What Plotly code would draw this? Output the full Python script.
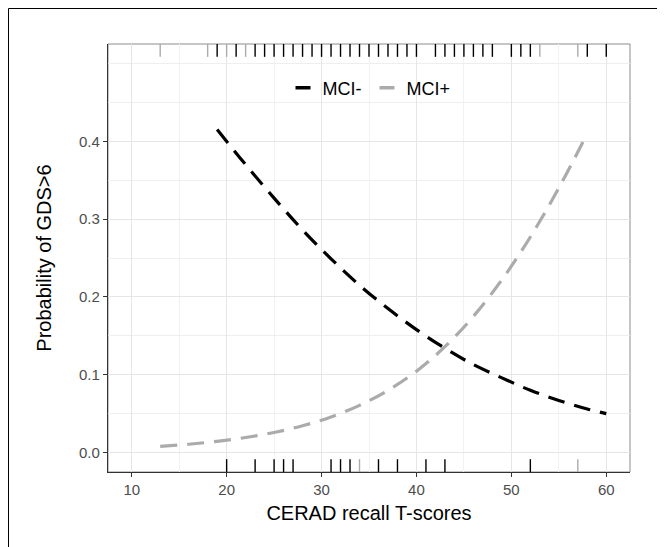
import plotly.graph_objects as go

# ---- data ----
neg_x = [19, 22, 25, 28, 31, 34, 37, 40, 43, 46, 49, 52, 55, 58, 60]
neg_y = [0.415, 0.370, 0.327, 0.286, 0.249, 0.215, 0.185, 0.158, 0.134, 0.113, 0.096, 0.080, 0.067, 0.056, 0.050]

pos_x = [13, 16, 19, 22, 25, 28, 31, 34, 37, 40, 43, 46, 49, 52, 55, 58]
pos_y = [0.008, 0.0107, 0.0144, 0.0193, 0.0258, 0.0344, 0.0457, 0.0606, 0.0799, 0.1046, 0.136, 0.175, 0.222, 0.277, 0.340, 0.410]

# rug marks (top = GDS>6 cases, bottom = others)
rug_top_neg = [19, 21, 23, 24, 25, 26, 27, 28, 29, 30, 31, 32, 33, 34, 35, 36, 37, 38, 39, 40,
               42, 43, 44, 45, 46, 47, 48, 50, 51, 52, 58, 60]
rug_top_pos = [13, 18, 20, 22, 53, 57]
rug_bot_neg = [20, 23, 25, 26, 27, 31, 32, 33, 36, 38, 41, 43, 52]
rug_bot_pos = [34, 57]

x_ticks = [10, 20, 30, 40, 50, 60]
y_ticks = [0.0, 0.1, 0.2, 0.3, 0.4]
y_tick_text = ["0.0", "0.1", "0.2", "0.3", "0.4"]

BLACK = "#000000"
GREY = "#ababab"
RUG_LEN = 0.03


def rug(xs, top):
    xx, yy = [], []
    for v in xs:
        xx += [v, v, None]
        yy += ([1, 1 - RUG_LEN, None] if top else [0, RUG_LEN, None])
    return xx, yy


fig = go.Figure()

for xs, top, col in [(rug_top_pos, True, GREY), (rug_top_neg, True, BLACK),
                     (rug_bot_pos, False, GREY), (rug_bot_neg, False, BLACK)]:
    rx, ry = rug(xs, top)
    fig.add_trace(go.Scatter(x=rx, y=ry, mode="lines", yaxis="y2",
                             line=dict(color=col, width=1.4),
                             showlegend=False, hoverinfo="skip"))

fig.add_trace(go.Scatter(x=pos_x, y=pos_y, mode="lines", line_shape="spline",
                         line=dict(color=GREY, width=3.2, dash="17px,10px"),
                         showlegend=False))
fig.add_trace(go.Scatter(x=neg_x, y=neg_y, mode="lines", line_shape="spline",
                         line=dict(color=BLACK, width=3.2, dash="17px,10px"),
                         showlegend=False))

# legend entries
fig.add_trace(go.Scatter(x=[None], y=[None], mode="lines", name="MCI-",
                         line=dict(color=BLACK, width=3.5, dash="0px,8px,15px,40px")))
fig.add_trace(go.Scatter(x=[None], y=[None], mode="lines", name="MCI+",
                         line=dict(color=GREY, width=3.5, dash="0px,8px,15px,40px")))

# page body has an 8px margin: figure sits at (8, 8)
W, H = 657, 539
L, R, T, B = 100, 35, 36, 75
pw, ph = W - L - R, H - T - B

fig.update_layout(
    width=W, height=H,
    margin=dict(l=L, r=R, t=T, b=B),
    paper_bgcolor="white", plot_bgcolor="white",
    font=dict(family="Liberation Sans, Arial, sans-serif", color="#000000"),
    showlegend=True,
    legend=dict(orientation="h", x=0.5, xanchor="center", y=(ph - 44) / ph, yanchor="middle",
                bgcolor="rgba(0,0,0,0)", font=dict(size=18, color="#000000"),
                itemwidth=30, traceorder="normal"),
    xaxis=dict(range=[7.5, 62.5], tickvals=x_ticks, ticks="outside", ticklen=4,
               tickcolor="#333333", tickwidth=1,
               tickfont=dict(size=15, color="#4d4d4d"),
               showgrid=True, gridcolor="#e6e6e6", gridwidth=1,
               minor=dict(dtick=5, tick0=5, showgrid=True, gridcolor="#f2f2f2", gridwidth=0.8, ticks=""),
               showline=True, linecolor="#333333", linewidth=1.2, zeroline=False,
               title=dict(text="CERAD recall T-scores", font=dict(size=20), standoff=8)),
    yaxis=dict(range=[-0.025, 0.525], tickvals=y_ticks, ticktext=y_tick_text,
               ticks="outside", ticklen=4, tickcolor="#333333", tickwidth=1,
               tickfont=dict(size=15, color="#4d4d4d"),
               showgrid=True, gridcolor="#e6e6e6", gridwidth=1,
               minor=dict(tickvals=[0.05, 0.15, 0.25, 0.35, 0.45, 0.5], showgrid=True,
                          gridcolor="#eeeeee", gridwidth=0.8, ticks=""),
               showline=True, linecolor="#333333", linewidth=1.2, zeroline=False,
               title=dict(text="Probability of GDS>6", font=dict(size=20), standoff=22)),
    yaxis2=dict(range=[0, 1], overlaying="y", visible=False, fixedrange=True),
    shapes=[
        dict(type="rect", xref="paper", yref="paper", x0=0, x1=1, y0=0, y1=1,
             line=dict(color="#8c8c8c", width=1), layer="below"),
        dict(type="rect", xref="paper", yref="paper",
             x0=(0.5 - L) / pw, x1=(W - 5 - L) / pw, y0=-0.3, y1=(ph + T - 0.5) / ph,
             line=dict(color="#000000", width=1), layer="above"),
    ],
)

fig.write_html("out.html")
